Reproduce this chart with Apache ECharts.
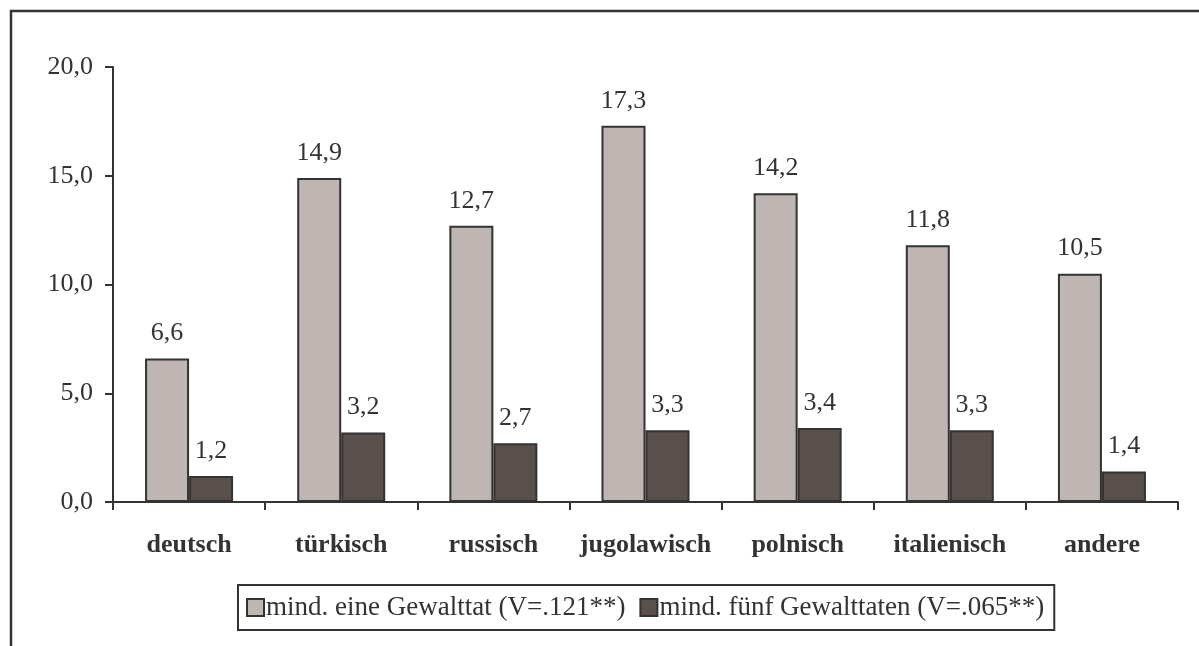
<!DOCTYPE html>
<html>
<head>
<meta charset="utf-8">
<script src="https://cdn.jsdelivr.net/npm/echarts@6/dist/echarts.min.js"></script>
<style>
  html, body { margin: 0; padding: 0; background: #fff; }
  #chart { width: 1199px; height: 646px; }
</style>
</head>
<body>
<div id="chart"></div>
<script>
// Kategorien und Werte
const categories = ['deutsch', 'türkisch', 'russisch', 'jugolawisch', 'polnisch', 'italienisch', 'andere'];
const eineGewalttat = [6.6, 14.9, 12.7, 17.3, 14.2, 11.8, 10.5];
const fuenfGewalttaten = [1.2, 3.2, 2.7, 3.3, 3.4, 3.3, 1.4];
const seriesNames = ['mind. eine Gewalttat (V=.121**)', 'mind. fünf Gewalttaten (V=.065**)'];

const font = '"Liberation Serif", "DejaVu Serif", serif';
const comma = v => v.toFixed(1).replace('.', ',');

const myChart = echarts.init(document.getElementById('chart'));

const barLabel = {
    show: true,
    position: 'top',
    distance: 12,
    fontFamily: font,
    fontSize: 26,
    color: '#333',
    formatter: p => comma(p.value)
};

const option = {
    animation: false,
    backgroundColor: '#fff',
    graphic: [
        {
            type: 'polyline',
            shape: { points: [[11, 646], [11, 11], [1199, 11]] },
            style: { stroke: '#333', lineWidth: 2.5, fill: null }
        }
    ],
    grid: { left: 113, right: 21, top: 67, bottom: 144 },
    legend: {
        left: 238,
        top: 585,
        data: seriesNames,
        icon: 'rect',
        itemWidth: 17,
        itemHeight: 17,
        itemGap: 14,
        borderColor: '#333',
        borderWidth: 2,
        padding: [9, 10, 9, 8],
        textStyle: { fontFamily: font, fontSize: 27, color: '#333', padding: [0, 0, 0, -3] }
    },
    xAxis: {
        type: 'category',
        data: categories,
        axisLine: { lineStyle: { color: '#333', width: 2 } },
        axisTick: { show: true, alignWithLabel: false, interval: 0, length: 8, lineStyle: { color: '#333', width: 2 } },
        axisLabel: { fontFamily: font, fontSize: 26, fontWeight: 'bold', color: '#333', margin: 30, interval: 0 }
    },
    yAxis: {
        type: 'value',
        min: 0,
        max: 20,
        interval: 5,
        splitLine: { show: false },
        axisLine: { show: true, lineStyle: { color: '#333', width: 2 } },
        axisTick: { show: true, length: 8, lineStyle: { color: '#333', width: 2 } },
        axisLabel: { fontFamily: font, fontSize: 26, color: '#333', margin: 20, formatter: v => comma(v) }
    },
    series: [
        {
            name: seriesNames[0],
            type: 'bar',
            data: eineGewalttat,
            barWidth: 44,
            barGap: '0%',
            itemStyle: { color: '#bfb5b2', borderColor: '#333', borderWidth: 2 },
            label: barLabel
        },
        {
            name: seriesNames[1],
            type: 'bar',
            data: fuenfGewalttaten,
            barWidth: 44,
            barGap: '0%',
            itemStyle: { color: '#594f4b', borderColor: '#333', borderWidth: 2 },
            label: barLabel
        }
    ]
};
myChart.setOption(option);
</script>
</body>
</html>
